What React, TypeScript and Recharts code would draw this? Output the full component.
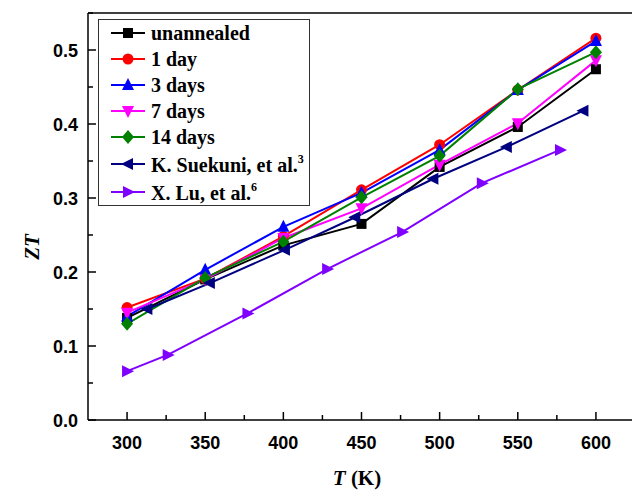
import { LineChart, Line, XAxis, YAxis, Legend, ReferenceLine } from "recharts";

const temps = [300, 350, 400, 450, 500, 550, 600];
const unannealed = [0.138, 0.19, 0.236, 0.265, 0.342, 0.396, 0.474];
const day1 = [0.152, 0.191, 0.248, 0.311, 0.372, 0.446, 0.516];
const days3 = [0.14, 0.203, 0.261, 0.307, 0.365, 0.446, 0.512];
const days7 = [0.145, 0.19, 0.246, 0.286, 0.345, 0.401, 0.486];
const days14 = [0.13, 0.192, 0.241, 0.301, 0.357, 0.447, 0.497];

const suekuniT = [313, 353, 401, 446, 496, 543, 592];
const suekuniZT = [0.15, 0.185, 0.23, 0.274, 0.326, 0.369, 0.418];

const luT = [300, 326, 377, 428, 476, 527, 577];
const luZT = [0.066, 0.088, 0.144, 0.204, 0.254, 0.32, 0.365];

const xTicks = [300, 325, 350, 375, 400, 425, 450, 475, 500, 525, 550, 575, 600, 625];
const yTicks = [0, 0.05, 0.1, 0.15, 0.2, 0.25, 0.3, 0.35, 0.4, 0.45, 0.5, 0.55];

type Shape = "square" | "circle" | "up" | "down" | "diamond" | "left" | "right";

const toPoints = (xs: number[], ys: number[]) => xs.map((t, i) => ({ t, zt: ys[i] }));

const series: { name: string; sup?: string; color: string; shape: Shape; data: { t: number; zt: number }[] }[] = [
  { name: "unannealed", color: "#000000", shape: "square", data: toPoints(temps, unannealed) },
  { name: "1 day", color: "#ff0000", shape: "circle", data: toPoints(temps, day1) },
  { name: "3 days", color: "#0000ff", shape: "up", data: toPoints(temps, days3) },
  { name: "7 days", color: "#ff00ff", shape: "down", data: toPoints(temps, days7) },
  { name: "14 days", color: "#008000", shape: "diamond", data: toPoints(temps, days14) },
  { name: "K. Suekuni, et al.", sup: "3", color: "#000080", shape: "left", data: toPoints(suekuniT, suekuniZT) },
  { name: "X. Lu, et al.", sup: "6", color: "#8000ff", shape: "right", data: toPoints(luT, luZT) },
];

function Marker({ shape, cx, cy, color }: { shape: Shape; cx: number; cy: number; color: string }) {
  const s = 6;
  switch (shape) {
    case "square":
      return <rect x={cx - 5} y={cy - 5} width={10} height={10} fill={color} />;
    case "circle":
      return <circle cx={cx} cy={cy} r={5.5} fill={color} />;
    case "up":
      return <polygon points={`${cx},${cy - s - 1} ${cx - s},${cy + s - 1} ${cx + s},${cy + s - 1}`} fill={color} />;
    case "down":
      return <polygon points={`${cx},${cy + s + 1} ${cx - s},${cy - s + 1} ${cx + s},${cy - s + 1}`} fill={color} />;
    case "diamond":
      return <polygon points={`${cx},${cy - 7} ${cx + 6},${cy} ${cx},${cy + 7} ${cx - 6},${cy}`} fill={color} />;
    case "left":
      return <polygon points={`${cx - s - 1},${cy} ${cx + s - 1},${cy - s} ${cx + s - 1},${cy + s}`} fill={color} />;
    case "right":
      return <polygon points={`${cx + s + 1},${cy} ${cx - s + 1},${cy - s} ${cx - s + 1},${cy + s}`} fill={color} />;
  }
}

const XTick = (props: any) => {
  const { x, y, payload } = props;
  const major = payload.value % 50 === 0;
  return (
    <g>
      <line x1={x} y1={y} x2={x} y2={y - (major ? 8 : 5)} stroke="#000" strokeWidth={1.5} />
      {major && (
        <text x={x} y={y + 29} textAnchor="middle" fontFamily="Liberation Sans, Arial" fontWeight="bold" fontSize={18} fill="#000">
          {payload.value}
        </text>
      )}
    </g>
  );
};

const YTick = (props: any) => {
  const { x, y, payload } = props;
  const major = Math.round(payload.value * 100) % 10 === 0;
  return (
    <g>
      <line x1={x} y1={y} x2={x + (major ? 8 : 5)} y2={y} stroke="#000" strokeWidth={1.5} />
      {major && (
        <text x={x - 10} y={y + 6.5} textAnchor="end" fontFamily="Liberation Sans, Arial" fontWeight="bold" fontSize={18} fill="#000">
          {payload.value.toFixed(1)}
        </text>
      )}
    </g>
  );
};

const rowHeights = [26, 26, 26, 26, 26, 27, 30];

const renderLegend = () => (
  <div
    style={{
      width: 212,
      height: 187,
      border: "1px solid #333",
      background: "#fff",
      boxSizing: "border-box",
      fontFamily: "Liberation Serif, Times New Roman",
      fontWeight: "bold",
      fontSize: 20,
      color: "#000",
    }}
  >
    {series.map((s, i) => (
      <div key={s.name} style={{ height: rowHeights[i], display: "flex", alignItems: "center" }}>
        <svg width={52} height={20} style={{ flex: "none" }}>
          <line x1={12} y1={10} x2={46} y2={10} stroke={s.color} strokeWidth={2} />
          <Marker shape={s.shape} cx={29} cy={10} color={s.color} />
        </svg>
        <span style={{ whiteSpace: "nowrap", lineHeight: 1 }}>
          {s.name}
          {s.sup && <sup style={{ fontSize: 12, verticalAlign: "9px" }}>{s.sup}</sup>}
        </span>
      </div>
    ))}
  </div>
);

export default function App() {
  return (
    <div style={{ position: "absolute", left: 0, top: 0, width: 632, height: 492, overflow: "hidden", background: "#fff" }}>
      <LineChart width={640} height={492} margin={{ top: 13, right: 5, bottom: 0, left: 0 }}>
        <XAxis
          dataKey="t"
          type="number"
          domain={[275, 625]}
          ticks={xTicks}
          interval={0}
          allowDataOverflow
          height={72}
          tickSize={0}
          tickMargin={0}
          tickLine={false}
          axisLine={{ stroke: "#000", strokeWidth: 1.5 }}
          tick={<XTick />}
        />
        <YAxis
          type="number"
          domain={[0, 0.55]}
          ticks={yTicks}
          interval={0}
          allowDataOverflow
          width={88}
          tickSize={0}
          tickMargin={0}
          tickLine={false}
          axisLine={{ stroke: "#000", strokeWidth: 1.5 }}
          tick={<YTick />}
        />
        <ReferenceLine y={0.55} stroke="#000" strokeWidth={1.5} />
        <ReferenceLine x={625} stroke="#000" strokeWidth={1.5} />
        {series.map((s) => (
          <Line
            key={s.name}
            data={s.data}
            dataKey="zt"
            name={s.name}
            stroke={s.color}
            strokeWidth={2}
            isAnimationActive={false}
            dot={(p: any) => <Marker key={`${s.name}-${p.index}`} shape={s.shape} cx={p.cx} cy={p.cy} color={s.color} />}
            activeDot={false}
          />
        ))}
        <Legend
          content={renderLegend}
          layout="vertical"
          align="center"
          verticalAlign="middle"
          wrapperStyle={{ left: 98, top: 19, width: 212, height: 187 }}
        />
      </LineChart>
      <div
        style={{
          position: "absolute",
          left: 357,
          top: 478,
          transform: "translate(-50%, -50%)",
          fontFamily: "Liberation Serif, Times New Roman",
          fontWeight: "bold",
          fontSize: 21,
          whiteSpace: "nowrap",
        }}
      >
        <i>T</i> (K)
      </div>
      <div
        style={{
          position: "absolute",
          left: 32,
          top: 247,
          transform: "translate(-50%, -50%) rotate(-90deg)",
          fontFamily: "Liberation Serif, Times New Roman",
          fontWeight: "bold",
          fontSize: 21,
          whiteSpace: "nowrap",
        }}
      >
        <i>ZT</i>
      </div>
    </div>
  );
}
